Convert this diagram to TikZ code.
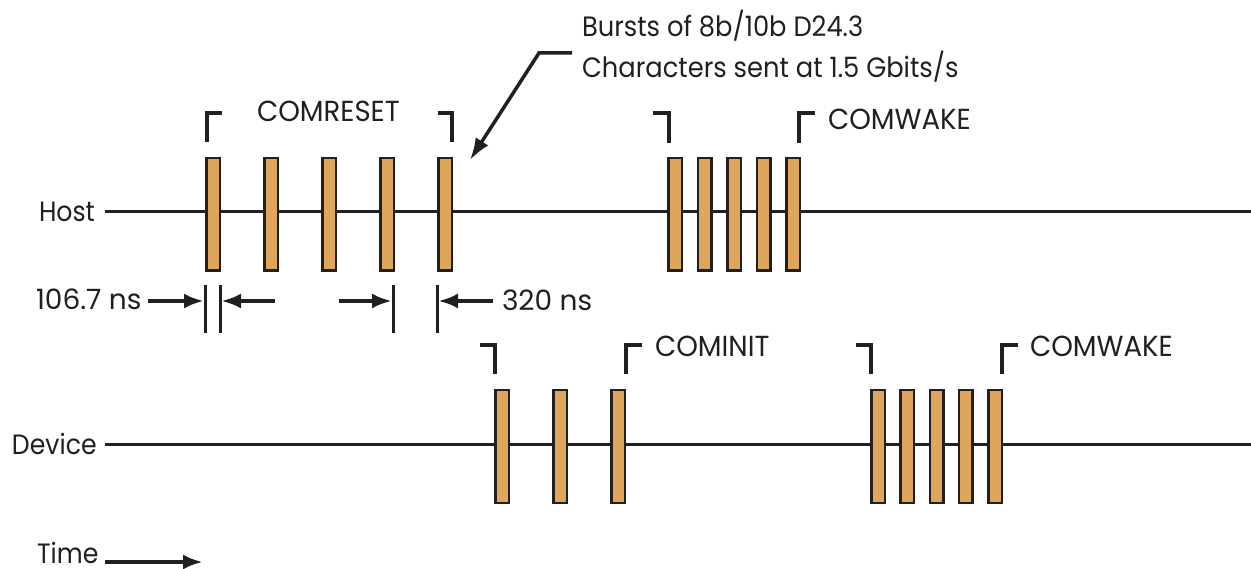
\documentclass[tikz,border=0pt]{standalone}
\usepackage{fontspec}
\setmainfont{Poppins}
\newfontfamily\capsfont{Poppins}[FakeStretch=0.95]
\newfontfamily\mixfont{Poppins}[FakeStretch=0.9]
\newfontfamily\burstfont{Poppins}[FakeStretch=0.92]
\usetikzlibrary{arrows.meta}
\definecolor{bar}{RGB}{222,166,90}
\definecolor{ink}{RGB}{35,31,32}
\begin{document}
\begin{tikzpicture}[x=1pt,y=-1pt,
  lbl/.style={inner sep=0pt,outer sep=0pt,anchor=base west,text=ink},
  caps/.style={lbl,font=\capsfont\fontsize{29}{32}\selectfont},
  mixed/.style={lbl,font=\mixfont\fontsize{28}{32}\selectfont},
  burst/.style={lbl,font=\burstfont\fontsize{28}{32}\selectfont},
  nums/.style={lbl,font=\fontsize{28}{32}\selectfont},
  sigline/.style={draw=ink,line width=3pt},
  pulse/.style={draw=ink,line width=2.5pt,fill=bar},
  brk/.style={draw=ink,line width=3.5pt},
  tick/.style={draw=ink,line width=3pt},
  dimarrow/.style={draw=ink,line width=4pt,-{Latex[length=20pt,width=15pt]}},
]
\useasboundingbox (0,0) rectangle (1251,569);
% labels
\node[mixed] (host) at (39,222) {Host};
\node[mixed] (dev) at (12,454) {Device};
\node[mixed] (time) at (37,563) {Time};
\node[caps] (comreset) at (257,122) {COMRESET};
\node[caps] (hwake) at (828,130) {COMWAKE};
\node[caps] (cominit) at (655,357) {COMINIT};
\node[caps] (dwake) at (1030,357) {COMWAKE};
\node[burst] (burst1) at (582,37) {Bursts of 8b/10b D24.3};
\node[burst] (burst2) at (582,78) {Characters sent at 1.5 Gbits/s};
\node[nums] (t1) at (36,310) {106.7 ns};
\node[nums] (t2) at (502,311) {320 ns};
% signal lines
\coordinate (hs) at (105,212); \coordinate (he) at (1251,212);
\coordinate (ds) at (105,444); \coordinate (de) at (1251,444);
\draw[sigline] (hs) -- (he);
\draw[sigline] (ds) -- (de);
% host pulses
\foreach \c in {213,271,329,387,445,675,704.5,734,763.5,793}
  \draw[pulse] (\c-6.75,158.25) rectangle (\c+6.75,270.75);
% device pulses
\foreach \c in {502,560,618,878,907,936.5,965.75,995}
  \draw[pulse] (\c-6.75,390.25) rectangle (\c+6.75,502.75);
% brackets
\draw[brk] (207,142) -- (207,113) -- (222,113);
\draw[brk] (438,113) -- (452,113) -- (452,142);
\draw[brk] (653,113) -- (669,113) -- (669,143);
\draw[brk] (799,143) -- (799,113) -- (815,113);
\draw[brk] (480,345) -- (495,345) -- (495,374);
\draw[brk] (626,374) -- (626,345) -- (642,345);
\draw[brk] (856,345) -- (871,345) -- (871,374);
\draw[brk] (1002,374) -- (1002,345) -- (1018,345);
% dimension ticks
\foreach \x/\n in {205/a,220/b,393/c,437/d}{
  \coordinate (tk\n t) at (\x,285); \coordinate (tk\n b) at (\x,333);
  \draw[tick] (tk\n t) -- (tk\n b);}
\coordinate (a1) at (148,301); \coordinate (a1e) at (204,301);
\coordinate (a2) at (275,301); \coordinate (a2e) at (221,301);
\coordinate (a3) at (339,301); \coordinate (a3e) at (392,301);
\coordinate (a4) at (493,301); \coordinate (a4e) at (438,301);
\draw[dimarrow] (a1) -- (a1e);
\draw[dimarrow] (a2) -- (a2e);
\draw[dimarrow] (a3) -- (a3e);
\draw[dimarrow] (a4) -- (a4e);
% burst pointer
\coordinate (p0) at (572,53); \coordinate (p1) at (539,53); \coordinate (p2) at (470,160);
\draw[draw=ink,line width=3.5pt,-{Latex[length=22pt,width=15pt]}] (p0) -- (p1) -- (p2);
% time arrow
\coordinate (ta) at (105,562); \coordinate (tb) at (203,562);
\draw[dimarrow] (ta) -- (tb);
\end{tikzpicture}
\end{document}
